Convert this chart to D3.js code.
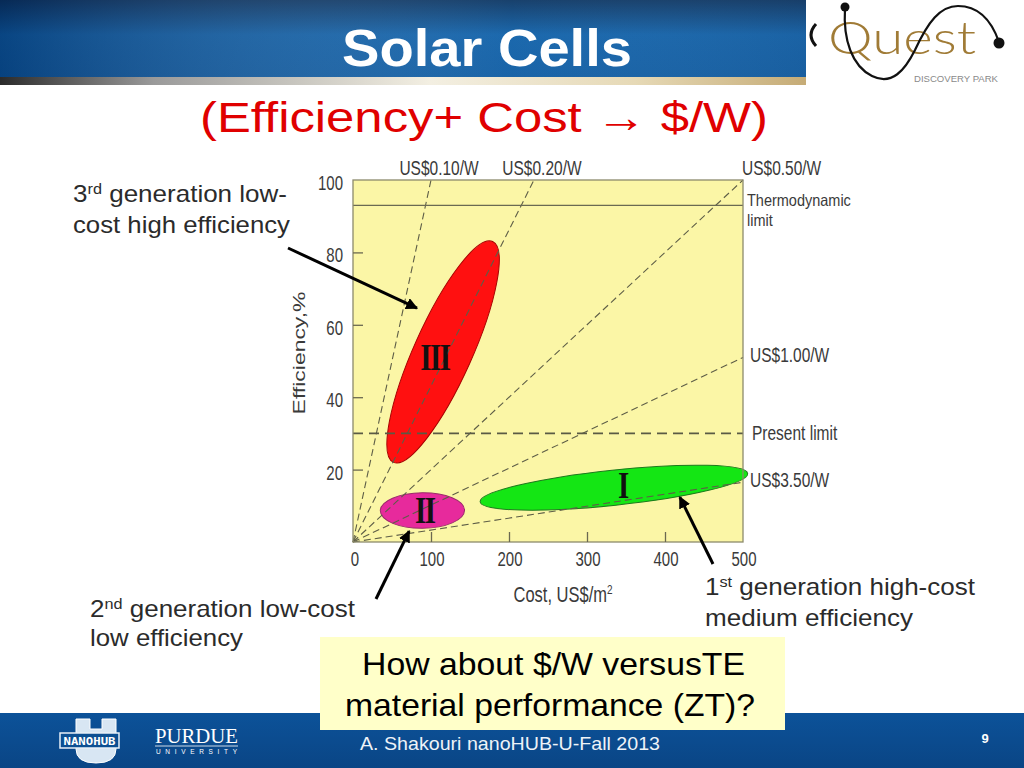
<!DOCTYPE html>
<html><head><meta charset="utf-8">
<script src="https://cdn.jsdelivr.net/npm/d3@7"></script>
<style>html,body{margin:0;padding:0;background:#fff;}svg{display:block;}</style>
</head><body>
<script>
// ---------- DATA ----------
const xTicks = [0, 100, 200, 300, 400, 500];
const yTicks = [0, 20, 40, 60, 80, 100];
const xTickLabels = ["0", "100", "200", "300", "400", "500"];
const yTickLabels = ["0", "20", "40", "60", "80", "100"];

// $/W iso-lines drawn from the origin to an end point (cost US$/m², efficiency %)
const priceLabels = ["US$0.10/W", "US$0.20/W", "US$0.50/W", "US$1.00/W", "US$3.50/W"];
const priceEndCost = [100, 232, 500, 500, 500];
const priceEndEff = [100, 100, 100, 51, 16.5];

// horizontal limits (efficiency %)
const limitNames = ["Thermodynamic limit", "Present limit"];
const limitEff = [93, 30];

// generation regions: two ends of the long axis (cost, efficiency)
const genNames = ["III", "II", "I"];
const genEnd1Cost = [52, 35, 163];
const genEnd1Eff = [22, 8.6, 11.1];
const genEnd2Cost = [179, 143, 506];
const genEnd2Eff = [83, 8.8, 18.9];
const genLabelCost = [105, 92, 346];
const genLabelEff = [51, 8.8, 15.7];

// annotations pointing at regions
const noteLines = [["3rd generation low-", "cost high efficiency"],
                   ["2nd generation low-cost", "low efficiency"],
                   ["1st generation high-cost", "medium efficiency"]];
const noteTipCost = [82, 72, 419];
const noteTipEff = [64.6, 3, 12.4];

// ---------- LAYOUT / STYLE ----------
const W = 1024, H = 768;
const svg = d3.select("body").append("svg").attr("width", W).attr("height", H);
const defs = svg.append("defs");
const SANS = "'Liberation Sans', Arial, Helvetica, sans-serif";

function lg(id, stops, x2, y2) {
  const g = defs.append("linearGradient").attr("id", id)
    .attr("x1", 0).attr("y1", 0).attr("x2", x2).attr("y2", y2);
  stops.forEach(s => g.append("stop").attr("offset", s[0]).attr("stop-color", s[1]));
}
lg("hdr", [[0, "#0a3563"], [0.45, "#0d5fa8"], [1, "#0b5aa2"]], 0, 1);
lg("hdrH", [[0, "rgba(0,20,60,0.35)"], [0.5, "rgba(255,255,255,0.06)"], [1, "rgba(0,20,60,0.2)"]], 1, 0);
lg("bar", [[0, "#2b2b2b"], [0.15, "#9a9a9a"], [0.42, "#f3efe2"], [0.62, "#e6d9b6"], [0.85, "#b99a5e"], [1, "#a48550"]], 1, 0);
lg("ftr", [[0, "#0c5299"], [1, "#0a4585"]], 0, 1);
defs.append("marker").attr("id", "arr").attr("viewBox", "0 0 10 10")
  .attr("refX", 9).attr("refY", 5).attr("markerWidth", 4).attr("markerHeight", 4)
  .attr("orient", "auto").append("path").attr("d", "M0,0 L10,5 L0,10 z").attr("fill", "#000");

// header
svg.append("rect").attr("x", 0).attr("y", 0).attr("width", W).attr("height", 77).attr("fill", "url(#hdr)");
svg.append("rect").attr("x", 0).attr("y", 0).attr("width", W).attr("height", 77).attr("fill", "url(#hdrH)");
svg.append("rect").attr("x", 0).attr("y", 77).attr("width", W).attr("height", 8).attr("fill", "url(#bar)");
svg.append("text").attr("x", 487).attr("y", 66).attr("text-anchor", "middle")
  .attr("font-family", SANS).attr("font-weight", "bold").attr("font-size", 52)
  .attr("fill", "#fff").attr("textLength", 290).attr("lengthAdjust", "spacingAndGlyphs")
  .text("Solar Cells");

// Quest logo
const lg1 = svg.append("g");
lg1.append("rect").attr("x", 806).attr("y", 0).attr("width", 218).attr("height", 87).attr("fill", "#fff");
lg1.append("path").attr("d", "M816,24 Q806,35 816,46").attr("fill", "none").attr("stroke", "#111").attr("stroke-width", 3);
lg1.append("text").attr("x", 828).attr("y", 54).attr("font-family", "Lato, 'Open Sans', sans-serif")
  .attr("font-weight", 300).attr("font-size", 46).attr("fill", "#a07b36")
  .attr("textLength", 148).attr("lengthAdjust", "spacingAndGlyphs").text("Quest");
lg1.append("path").attr("d", "M845,8 C843,40 852,66 872,76 C892,86 905,70 915,50 C928,22 940,6 958,6 C980,6 992,22 999,42")
  .attr("fill", "none").attr("stroke", "#111").attr("stroke-width", 2.2);
lg1.append("circle").attr("cx", 845).attr("cy", 7).attr("r", 4.5).attr("fill", "#111");
lg1.append("circle").attr("cx", 999).attr("cy", 43).attr("r", 5.5).attr("fill", "#111");
lg1.append("text").attr("x", 914).attr("y", 82).attr("font-family", SANS).attr("font-size", 9)
  .attr("fill", "#8a8a8a").attr("textLength", 84).attr("lengthAdjust", "spacingAndGlyphs").text("DISCOVERY PARK");

// subtitle
svg.append("text").attr("x", 200).attr("y", 132)
  .attr("font-family", SANS).attr("font-size", 43).attr("fill", "#e00000")
  .attr("textLength", 568).attr("lengthAdjust", "spacingAndGlyphs")
  .text("(Efficiency+ Cost \u2192 $/W)");

// ---------- CHART ----------
const x = d3.scaleLinear().domain([0, 500]).range([353, 743]);
const y = d3.scaleLinear().domain([0, 100]).range([542, 180]);
const ink = "#3a3a3a", lineCol = "#5e5e47";
const chart = svg.append("g");

chart.append("rect").attr("x", x(0)).attr("y", y(100))
  .attr("width", x(500) - x(0)).attr("height", y(0) - y(100)).attr("fill", "#fbf6a6");

// generation ellipses
const genFill = ["#ff1010", "#e72a9c", "#14e614"];
const genStroke = ["#a80000", "#9a2a6a", "#1d7a1d"];
const genHalfWidth = [29, 17.8, 17.6];
genNames.forEach((n, i) => {
  const x1 = x(genEnd1Cost[i]), y1 = y(genEnd1Eff[i]);
  const x2 = x(genEnd2Cost[i]), y2 = y(genEnd2Eff[i]);
  const cx = (x1 + x2) / 2, cy = (y1 + y2) / 2;
  const a = Math.hypot(x2 - x1, y2 - y1) / 2;
  const ang = Math.atan2(y2 - y1, x2 - x1) * 180 / Math.PI;
  chart.append("ellipse").attr("transform", `translate(${cx},${cy}) rotate(${ang})`)
    .attr("rx", a).attr("ry", genHalfWidth[i]).attr("fill", genFill[i])
    .attr("stroke", genStroke[i]).attr("stroke-width", 1);
});

// price lines
priceLabels.forEach((lab, i) => {
  chart.append("line").attr("x1", x(0)).attr("y1", y(0))
    .attr("x2", x(priceEndCost[i])).attr("y2", y(priceEndEff[i]))
    .attr("stroke", lineCol).attr("stroke-width", 1.1).attr("stroke-dasharray", "7,4");
});

// limits
chart.append("line").attr("x1", x(0)).attr("x2", x(500)).attr("y1", y(limitEff[0])).attr("y2", y(limitEff[0]))
  .attr("stroke", "#6a6a52").attr("stroke-width", 1.4);
chart.append("line").attr("x1", x(0)).attr("x2", x(500)).attr("y1", y(limitEff[1])).attr("y2", y(limitEff[1]))
  .attr("stroke", "#5a5a44").attr("stroke-width", 1.8).attr("stroke-dasharray", "10,6");

// frame + ticks
chart.append("rect").attr("x", x(0)).attr("y", y(100))
  .attr("width", x(500) - x(0)).attr("height", y(0) - y(100))
  .attr("fill", "none").attr("stroke", "#8c8a6c").attr("stroke-width", 1.3);
const xAxis = d3.axisBottom(x).tickValues(xTicks.slice(1, -1)).tickSizeInner(-10).tickSizeOuter(0).tickFormat("");
const yAxis = d3.axisLeft(y).tickValues(yTicks.slice(1, -1)).tickSizeInner(-10).tickSizeOuter(0).tickFormat("");
const gx = chart.append("g").attr("transform", `translate(0,${y(0)})`).call(xAxis);
const gy = chart.append("g").attr("transform", `translate(${x(0)},0)`).call(yAxis);
[gx, gy].forEach(g => { g.select(".domain").remove(); g.selectAll("line").attr("stroke", "#6b6950").attr("stroke-width", 1.3); });

// text helper (chart texts are vertically stretched in the reference)
function ctext(px, py, str, anchor, size, sy) {
  return chart.append("text").attr("transform", `translate(${px},${py}) scale(1,${sy || 1.3})`)
    .attr("text-anchor", anchor || "start").attr("font-family", SANS)
    .attr("font-size", size || 15).attr("fill", ink).text(str);
}
xTicks.forEach((v, i) => ctext(x(v) + (i === 0 ? 2 : 1), 566, xTickLabels[i], "middle", 15));
yTicks.forEach((v, i) => { if (v > 0) ctext(343, y(v) + 10, yTickLabels[i], "end", 15); });

// price labels
priceLabels.forEach((lab, i) => {
  if (priceEndEff[i] >= 100 && priceEndCost[i] < 500) {
    ctext(x(priceEndCost[i]) + 8, 175, lab, "middle", 15.5);
  } else if (priceEndEff[i] >= 100) {
    ctext(x(priceEndCost[i]) - 1, 175, lab, "start", 15.5);
  } else {
    ctext(x(500) + 7, y(priceEndEff[i]) + 5, lab, "start", 15.5);
  }
});
ctext(x(500) + 4, y(limitEff[0]) + 1, "Thermodynamic", "start", 14.5, 1.15);
ctext(x(500) + 4, y(limitEff[0]) + 21, "limit", "start", 14.5, 1.15);
ctext(x(500) + 9, y(limitEff[1]) + 7, "Present limit", "start", 15.5);

// axis titles
chart.append("text").attr("transform", "translate(563,602) scale(1,1.3)").attr("text-anchor", "middle")
  .attr("font-family", SANS).attr("font-size", 16.5).attr("fill", ink)
  .html('Cost, US$/m<tspan dy="-6" font-size="10">2</tspan>');
chart.append("text").attr("transform", "translate(305,353) rotate(-90) scale(1.35,1)").attr("text-anchor", "middle")
  .attr("font-family", SANS).attr("font-size", 17).attr("fill", ink).text("Efficiency,%");

// roman numerals
genNames.forEach((n, i) => {
  chart.append("text").attr("transform", `translate(${x(genLabelCost[i])},${y(genLabelEff[i]) + 13}) scale(1,1.3)`)
    .attr("text-anchor", "middle").attr("font-family", "'Liberation Serif', 'Times New Roman', serif")
    .attr("font-weight", "bold").attr("font-size", 29).attr("letter-spacing", -1.5).attr("fill", "#111").text(n);
});

// annotation arrows and text
const tails = [[288, 248], [376, 599], [713, 564]];
noteTipCost.forEach((c, i) => {
  svg.append("line").attr("x1", tails[i][0]).attr("y1", tails[i][1])
    .attr("x2", x(c)).attr("y2", y(noteTipEff[i]))
    .attr("stroke", "#000").attr("stroke-width", 3).attr("marker-end", "url(#arr)");
});
const notePos = [[73, 202, 31], [90, 617, 29], [705, 595, 31]];
const noteLens = [[214, 217], [265, 153], [270, 208]];
const sups = ["rd", "nd", "st"];
noteLines.forEach((lines, i) => {
  lines.forEach((ln, j) => {
    const t = svg.append("text").attr("x", notePos[i][0]).attr("y", notePos[i][1] + j * notePos[i][2])
      .attr("font-family", SANS).attr("font-size", 24).attr("fill", "#2b2b2b")
      .attr("textLength", noteLens[i][j]).attr("lengthAdjust", "spacingAndGlyphs");
    if (j === 0) {
      t.append("tspan").text(ln.charAt(0));
      t.append("tspan").attr("dy", -8).attr("font-size", 15).text(sups[i]);
      t.append("tspan").attr("dy", 8).text(ln.slice(1 + sups[i].length));
    } else t.text(ln);
  });
});

// footer
svg.append("rect").attr("x", 0).attr("y", 713).attr("width", W).attr("height", 55).attr("fill", "url(#ftr)");
// nanoHUB logo (simplified)
const nh = svg.append("g");
nh.append("path").attr("d", "M76,719 h14 v10 h12 v-10 h14 v30 q0,14 -20,14 q-20,0 -20,-14 z")
  .attr("fill", "#d8e6f3").attr("stroke", "#fff").attr("stroke-width", 1);
nh.append("rect").attr("x", 60).attr("y", 733).attr("width", 59).attr("height", 15).attr("fill", "#0c4f92").attr("stroke", "#e8f0f8").attr("stroke-width", 1.5);
nh.append("text").attr("x", 89.5).attr("y", 745).attr("text-anchor", "middle").attr("font-family", "'DejaVu Sans Mono', monospace")
  .attr("font-weight", "bold").attr("font-size", 11).attr("fill", "#fff").attr("textLength", 52).attr("lengthAdjust", "spacingAndGlyphs").text("NANOHUB");
nh.append("text").attr("x", 155).attr("y", 743).attr("font-family", "'Liberation Serif', serif")
  .attr("font-size", 21).attr("fill", "#fff").attr("textLength", 83).attr("lengthAdjust", "spacingAndGlyphs").text("PURDUE");
nh.append("line").attr("x1", 155).attr("x2", 238).attr("y1", 746).attr("y2", 746).attr("stroke", "#fff").attr("stroke-width", 0.8);
nh.append("text").attr("x", 156).attr("y", 754).attr("font-family", SANS).attr("font-size", 6.5)
  .attr("fill", "#fff").attr("textLength", 81).attr("lengthAdjust", "spacing").text("UNIVERSITY");
svg.append("text").attr("x", 360).attr("y", 750).attr("font-family", SANS).attr("font-size", 19)
  .attr("fill", "#eef3f8").attr("textLength", 300).attr("lengthAdjust", "spacingAndGlyphs").text("A. Shakouri nanoHUB-U-Fall 2013");
svg.append("text").attr("x", 985).attr("y", 743).attr("text-anchor", "middle").attr("font-family", SANS)
  .attr("font-weight", "bold").attr("font-size", 13).attr("fill", "#fff").text("9");

// question box
svg.append("rect").attr("x", 320).attr("y", 637).attr("width", 465).attr("height", 93).attr("fill", "#ffffc9");
svg.append("text").attr("x", 362).attr("y", 675).attr("font-family", SANS).attr("font-size", 32).attr("fill", "#000")
  .attr("textLength", 383).attr("lengthAdjust", "spacingAndGlyphs").text("How about $/W versusTE");
svg.append("text").attr("x", 345).attr("y", 716).attr("font-family", SANS).attr("font-size", 32).attr("fill", "#000")
  .attr("textLength", 410).attr("lengthAdjust", "spacingAndGlyphs").text("material performance (ZT)?");
</script>
</body></html>
